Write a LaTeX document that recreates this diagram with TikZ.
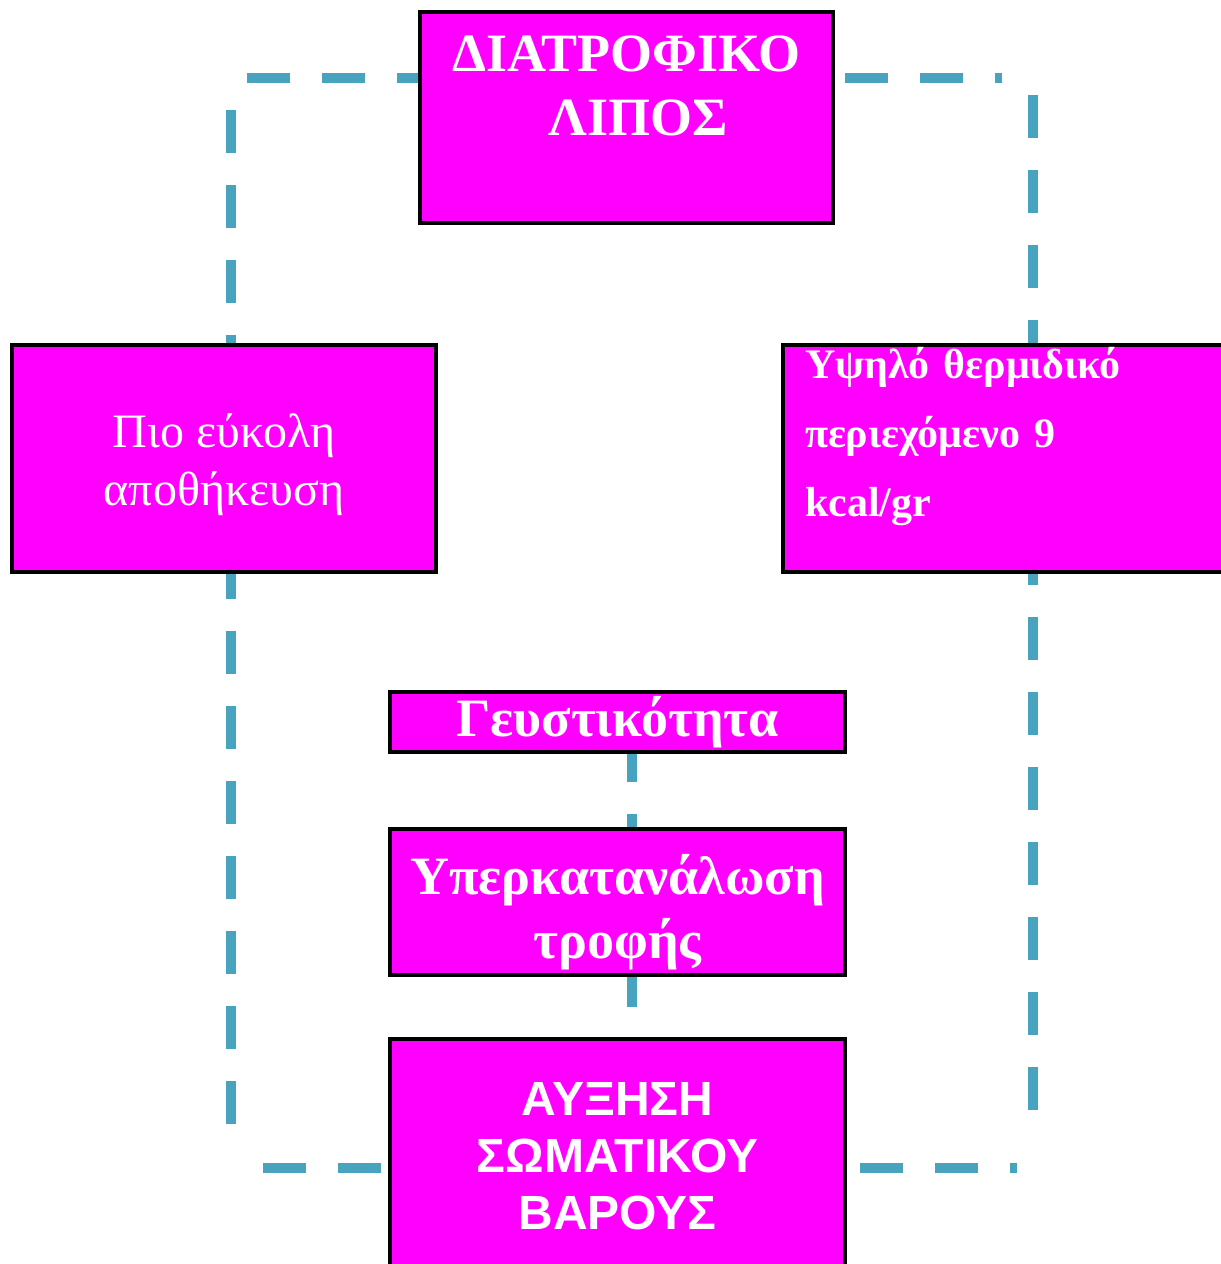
\documentclass[tikz,border=0pt]{standalone}
\usepackage{fontspec}
\setmainfont{Liberation Serif}
\setsansfont{Liberation Sans}
\usetikzlibrary{positioning}
\definecolor{boxpink}{RGB}{255,0,255}
\definecolor{linkblue}{RGB}{72,164,190}
\tikzset{
  fatbox/.style={draw=black, line width=2pt, fill=boxpink, text=white, rectangle, align=center, inner sep=0pt},
  link/.style={draw=linkblue, line width=5pt, dash pattern=on 21.5pt off 16pt}
}

\begin{document}
\begin{tikzpicture}[x=0.5pt, y=-0.5pt]
            \useasboundingbox (0,0) rectangle (1221,1264);
            \node [fatbox, minimum width=206.5pt, minimum height=105.5pt, font=\fontsize{27}{32}\selectfont\bfseries] (box1) at (626.5,117.5) {ΔΙΑΤΡΟΦΙΚΟ\\\hspace*{12pt}ΛΙΠΟΣ\\ };
            \node [fatbox, minimum width=212pt, minimum height=113.5pt, font=\fontsize{24}{29}\selectfont] (box2) at (224,458.5) {\rule{0pt}{23pt}Πιο εύκολη\\αποθήκευση};
            \node [fatbox, minimum width=228.5pt, minimum height=113.5pt, text width=206.5pt, align=left, inner xsep=11pt, font=\fontsize{21}{34.5}\selectfont\bfseries] (box3) at (1011.5,458.5) {Υψηλό θερμιδικό\\περιεχόμενο 9\\kcal/gr\\[-8pt]\mbox{}};
            \node [fatbox, minimum width=227.5pt, minimum height=30pt, font=\fontsize{27}{32}\selectfont\bfseries] (box4) at (617.5,722) {Γευστικότητα};
            \node [fatbox, minimum width=227.5pt, minimum height=73pt, font=\fontsize{27}{32}\selectfont\bfseries] (box5) at (617.5,902) {\rule{0pt}{30pt}Υπερκατανάλωση\\τροφής};
            \node [fatbox, minimum width=227.5pt, minimum height=117pt, font=\fontsize{24}{28.5}\selectfont\sffamily\bfseries] (box6) at (617.5,1156) {ΑΥΞΗΣΗ\\ΣΩΜΑΤΙΚΟΥ\\ΒΑΡΟΥΣ};

            % free ends of the dashed links
            \coordinate (tlh) at (247,78);
            \coordinate (tlv) at (231,110);
            \coordinate (blv) at (231,1124);
            \coordinate (blh) at (263,1168);
            \coordinate (trs) at (845,78);
            \coordinate (trh) at (1002,78);
            \coordinate (trv) at (1033,95);
            \coordinate (brv) at (1033,1110);
            \coordinate (brs) at (860,1168);
            \coordinate (brh) at (1017,1168);
            \coordinate (midline) at (632,0);

            \draw [link] (tlh) -- (tlh -| box1.west);
            \draw [link] (tlv) -- (tlv |- box2.north);
            \draw [link] (blv) -- (blv |- box2.south);
            \draw [link] (blh) -- (blh -| box6.west);
            \draw [link] (trs) -- (trh);
            \draw [link] (trv) -- (trv |- box3.north);
            \draw [link] (brv) -- (brv |- box3.south);
            \draw [link] (brs) -- (brh);
            \draw [link, dash phase=7.5pt] (box4.south -| midline) -- (box5.north -| midline);
            \draw [link, dash phase=6.5pt] (box5.south -| midline) -- (box6.north -| midline);
          \end{tikzpicture}
\end{document}
